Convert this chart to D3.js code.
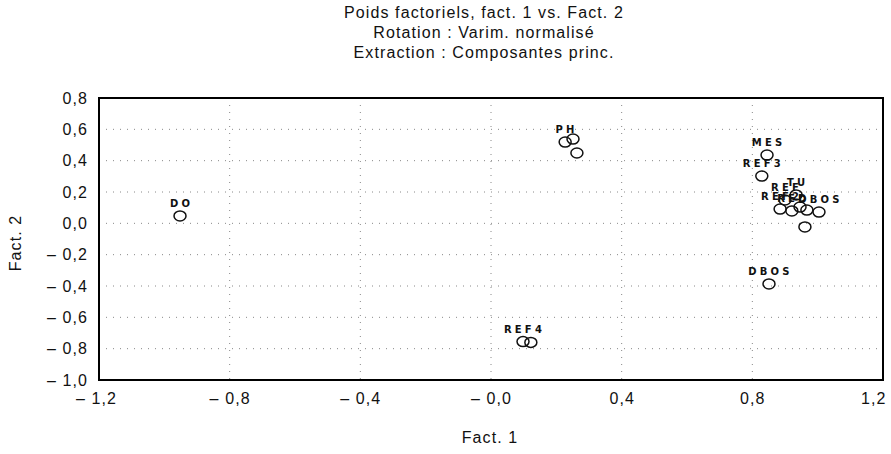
<!DOCTYPE html>
<html>
<head>
<meta charset="utf-8">
<script src="https://cdn.jsdelivr.net/npm/d3@7/dist/d3.min.js"></script>
<style>
  body { margin: 0; background: #fff; }
  .lbl { font-family: "Liberation Sans", Arial, sans-serif; font-size: 16px; letter-spacing: 1.1px; fill: #111; }
  .pt-lbl { font-family: "DejaVu Sans", sans-serif; font-weight: bold; font-size: 10px; letter-spacing: 3.2px; fill: #111; }
</style>
</head>
<body>
<svg id="chart" width="891" height="454"></svg>
<script>
var titleLines = ["Poids factoriels, fact. 1 vs. Fact. 2", "Rotation : Varim. normalisé", "Extraction : Composantes princ."];
var xTitle = "Fact. 1";
var yTitle = "Fact. 2";

// loadings
var pointNames = ["DO", "PH", "", "", "REF4", "", "DBOS", "MES", "REF3", "TU", "REF", "REF2", "RED", "DBOS", "", "", ""];
var fact1 = [-0.952, 0.227, 0.251, 0.263, 0.098, 0.122, 0.851, 0.845, 0.829, 0.934, 0.900, 0.885, 0.921, 1.004, 0.946, 0.967, 0.961];
var fact2 = [0.047, 0.519, 0.538, 0.449, -0.755, -0.760, -0.387, 0.436, 0.302, 0.181, 0.149, 0.091, 0.079, 0.072, 0.104, 0.085, -0.023];

var xTicks = [-1.2, -0.8, -0.4, 0.0, 0.4, 0.8, 1.2];
var xTickLabels = ["\u2013 1,2", "\u2013 0,8", "\u2013 0,4", "\u2013 0,0", "0,4", "0,8", "1,2"];
var yTicks = [-1.0, -0.8, -0.6, -0.4, -0.2, 0.0, 0.2, 0.4, 0.6, 0.8];
var yTickLabels = ["\u2013 1,0", "\u2013 0,8", "\u2013 0,6", "\u2013 0,4", "\u2013 0,2", "0,0", "0,2", "0,4", "0,6", "0,8"];

var margin = {left: 99, top: 98, right: 8, bottom: 74};
var W = 891, H = 454;
var svg = d3.select("#chart");

var x = d3.scaleLinear().domain([-1.2, 1.2]).range([margin.left, W - margin.right]);
var y = d3.scaleLinear().domain([-1.0, 0.8]).range([H - margin.bottom, margin.top]);

// dotted grid
svg.append("g").selectAll("line").data(xTicks.slice(1, -1)).join("line")
  .attr("x1", d => x(d)).attr("x2", d => x(d))
  .attr("y1", y(0.8)).attr("y2", y(-1.0))
  .attr("stroke", "#888").attr("stroke-width", 1).attr("stroke-dasharray", "1,6");
svg.append("g").selectAll("line").data(yTicks.slice(1, -1)).join("line")
  .attr("x1", x(-1.2)).attr("x2", x(1.2))
  .attr("y1", d => y(d)).attr("y2", d => y(d))
  .attr("stroke", "#888").attr("stroke-width", 1).attr("stroke-dasharray", "1,6");

// axes (labels only, the frame is drawn below)
var xAxis = d3.axisBottom(x).tickValues(xTicks).tickSize(0).tickPadding(13)
  .tickFormat((d, i) => xTickLabels[i]);
var gx = svg.append("g").attr("transform", "translate(0," + y(-1.0) + ")").call(xAxis);
var yAxis = d3.axisLeft(y).tickValues(yTicks).tickSize(0).tickPadding(11)
  .tickFormat((d, i) => yTickLabels[i]);
var gy = svg.append("g").attr("transform", "translate(" + x(-1.2) + ",0)").call(yAxis);
[gx, gy].forEach(g => {
  g.select(".domain").remove();
  g.attr("font-family", null).attr("font-size", null);
  g.selectAll("text").attr("class", "lbl").attr("fill", "#111");
});
// last x label sits flush against the right border
gx.selectAll(".tick text").filter(d => d === 1.2).attr("text-anchor", "end").attr("x", 3);
gx.selectAll(".tick text").filter(d => d === -1.2).attr("x", -3);

// frame
svg.append("rect")
  .attr("x", x(-1.2)).attr("y", y(0.8))
  .attr("width", x(1.2) - x(-1.2)).attr("height", y(-1.0) - y(0.8))
  .attr("fill", "none").attr("stroke", "#000").attr("stroke-width", 2);

// points
svg.append("g").selectAll("ellipse").data(fact1).join("ellipse")
  .attr("cx", d => x(d)).attr("cy", (d, i) => y(fact2[i]))
  .attr("rx", 6).attr("ry", 5)
  .attr("fill", "none").attr("stroke", "#111").attr("stroke-width", 1.5);

svg.append("g").selectAll("text").data(pointNames).join("text")
  .attr("class", "pt-lbl")
  .attr("x", (d, i) => x(fact1[i]) + 1.5)
  .attr("y", (d, i) => y(fact2[i]) - 9)
  .attr("text-anchor", "middle")
  .text(d => d);

// titles
svg.append("g").selectAll("text").data(titleLines).join("text")
  .attr("class", "lbl")
  .attr("x", 484).attr("y", (d, i) => 18 + i * 20)
  .attr("text-anchor", "middle")
  .text(d => d);

svg.append("text").attr("class", "lbl")
  .attr("x", 490).attr("y", 443).attr("text-anchor", "middle").text(xTitle);
svg.append("text").attr("class", "lbl")
  .attr("transform", "translate(21,243) rotate(-90)")
  .attr("text-anchor", "middle").text(yTitle);
</script>
</body>
</html>
